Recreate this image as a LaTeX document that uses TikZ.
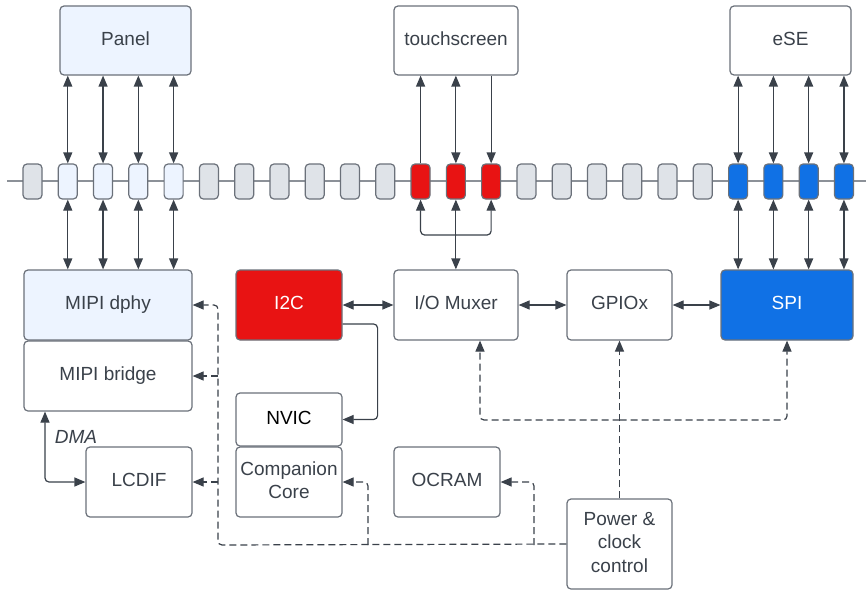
\documentclass[tikz,border=0pt]{standalone}
\usepackage{fontspec}
\setmainfont{Liberation Sans}
\usetikzlibrary{arrows.meta}
\definecolor{ink}{HTML}{3A414A}
\definecolor{edgec}{HTML}{6B717A}
\definecolor{busc}{HTML}{8C9198}
\definecolor{lblue}{HTML}{EDF4FF}
\definecolor{pingray}{HTML}{DFE3E8}
\definecolor{myred}{HTML}{E81313}
\definecolor{myblue}{HTML}{1071E5}
\begin{document}
\begin{tikzpicture}[x=1pt,y=-1pt,
  font=\fontsize{19}{23.5}\selectfont,
  box/.style={draw=edgec, line width=1.2pt, rounded corners=4pt, fill=white, text=ink, inner sep=0pt, align=center, execute at end node={\vphantom{p}}},
  pinbox/.style={draw=edgec, line width=1.2pt, rounded corners=4pt, minimum width=19pt, minimum height=35pt, inner sep=0pt},
  arr/.style={draw=ink, line width=1.2pt, -{Triangle[length=11pt,width=9pt]}},
  darr/.style={draw=ink, line width=1.2pt, {Triangle[length=11pt,width=9pt]}-{Triangle[length=11pt,width=9pt]}},
  dsh/.style={dash pattern=on 7pt off 4pt},
  rc/.style={rounded corners=4pt}]
\useasboundingbox (0,0) rectangle (866,591);
\fill[white] (0,0) rectangle (866,591);

% bus line
\coordinate (busL) at (7,181);
\coordinate (busR) at (866,181);
\draw[busc, line width=1.2pt] (busL) -- (busR);

% pins
\foreach \k/\f in {0/pingray,1/lblue,2/lblue,3/lblue,4/lblue,5/pingray,6/pingray,7/pingray,8/pingray,9/pingray,10/pingray,11/myred,12/myred,13/myred,14/pingray,15/pingray,16/pingray,17/pingray,18/pingray,19/pingray,20/myblue,21/myblue,22/myblue,23/myblue}
  \node[pinbox, fill=\f] (p\k) at ({32.5+35.28*\k},181.5) {};

% boxes
\node[box, fill=lblue, minimum width=131pt, minimum height=69pt] (panel) at (125.5,40.5) {Panel};
\node[box, minimum width=124pt, minimum height=69pt] (ts) at (456,40.5) {touchscreen};
\node[box, minimum width=121pt, minimum height=69pt] (ese) at (790.5,40.5) {eSE};
\node[box, fill=lblue, minimum width=168pt, minimum height=70pt] (dphy) at (108,305) {MIPI dphy};
\node[box, minimum width=168pt, minimum height=70pt] (bridge) at (108,376) {MIPI bridge};
\node[box, minimum width=106pt, minimum height=70pt] (lcdif) at (139,482) {LCDIF};
\node[box, fill=myred, text=white, minimum width=106pt, minimum height=70pt] (i2c) at (289,305) {I2C};
\node[box, text=black, minimum width=106pt, minimum height=53pt] (nvic) at (289,419.5) {NVIC};
\node[box, minimum width=106pt, minimum height=70pt] (comp) at (289,482) {Companion\\Core};
\node[box, minimum width=124pt, minimum height=70pt] (mux) at (456,305) {I/O Muxer};
\node[box, minimum width=105pt, minimum height=70pt] (gpio) at (619.5,305) {GPIOx};
\node[box, fill=myblue, text=white, minimum width=132pt, minimum height=70pt] (spi) at (787,305) {SPI};
\node[box, minimum width=106pt, minimum height=70pt] (ocram) at (447,482) {OCRAM};
\node[box, minimum width=105pt, minimum height=90pt] (pwr) at (619.5,544) {Power \&\\clock\\control};

% pin connections
\foreach \k in {1,...,4} {
  \draw[darr] (p\k.north) -- (p\k.north |- panel.south);
  \draw[darr] (p\k.south) -- (p\k.south |- dphy.north);
}
\foreach \k in {20,...,23} {
  \draw[darr] (p\k.north) -- (p\k.north |- ese.south);
  \draw[darr] (p\k.south) -- (p\k.south |- spi.north);
}
\draw[arr] (p11.north) -- (p11.north |- ts.south);
\draw[darr] (p12.north) -- (p12.north |- ts.south);
\draw[arr] (p13.north |- ts.south) -- (p13.north);

% fork to muxer
\coordinate (fork) at (456,235);
\draw[darr] (p12.south) -- (p12.south |- mux.north);
\draw[arr, rc] (fork) -| (p11.south);
\draw[arr, rc] (fork) -| (p13.south);

% horizontal links
\draw[darr] (i2c.east) -- (mux.west);
\draw[darr] (mux.east) -- (gpio.west);
\draw[darr] (gpio.east) -- (spi.west);

% I2C to NVIC
\draw[arr, rc] ([yshift=-19pt]i2c.east) -- ++(35,0) |- (nvic.east);

% DMA
\draw[darr, rc] ([xshift=-63pt]bridge.south) |- (lcdif.west);
\node[text=ink, font=\fontsize{19}{22}\selectfont\itshape] (dma) at (76,437) {DMA};

% dashed power/clock lines
\coordinate (busD) at (218,545);
\draw[arr, dsh, rc] (pwr.west) -- (busD) |- (dphy.east);
\draw[arr, dsh] (bridge.east -| busD) -- (bridge.east);
\draw[arr, dsh] (lcdif.east -| busD) -- (lcdif.east);
\coordinate (cj) at (368,545);
\draw[arr, dsh, rc] (cj) |- (comp.east);
\coordinate (oj) at (534,545);
\draw[arr, dsh, rc] (oj) |- (ocram.east);

\draw[arr, dsh] (pwr.north) -- (gpio.south);
\coordinate (hj) at (619.5,420);
\draw[arr, dsh, rc] (hj) -| ([xshift=24pt]mux.south);
\draw[arr, dsh, rc] (hj) -| (spi.south);
\end{tikzpicture}
\end{document}
